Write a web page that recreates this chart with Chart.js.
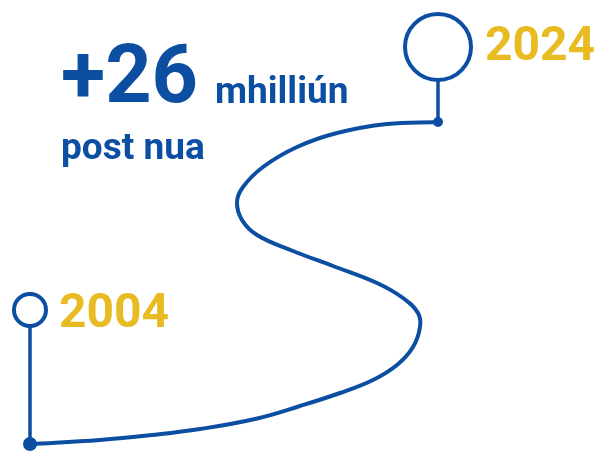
<!DOCTYPE html>
<html>
<head>
<meta charset="utf-8">
<script src="https://cdn.jsdelivr.net/npm/chart.js@4/dist/chart.umd.min.js"></script>
<style>
  html, body { margin: 0; padding: 0; background: #ffffff; }
  #wrap { width: 595px; height: 452px; position: relative; }
</style>
</head>
<body>
<div id="wrap"><canvas id="roadChart"></canvas></div>
<script>
// winding road path
const pathX = [30, 100, 152, 200, 255, 300, 340, 373, 397, 413, 420, 418, 403, 377, 333, 293, 257, 242, 237, 243, 263, 297, 337, 387, 438];
const pathY = [444, 440, 435, 429, 419, 406, 393, 380, 365, 347, 327, 313, 298, 283, 266, 251, 235, 220, 202, 187, 167, 147, 133, 124, 122];

// milestones: where the road starts/ends and where the marker sits
const years = ['2004', '2024'];
const markerX = [30, 438];
const markerY = [310, 47];
const baseY = [444, 122];

const headline = '+26';
const unitText = 'mhilliún';
const subText = 'post nua';

const BLUE = '#0b4ea2';
const YELLOW = '#e8bb22';

const roadData = pathX.map((x, i) => ({ x: x, y: pathY[i] }));

const textPlugin = {
  id: 'textPlugin',
  afterDraw(chart) {
    const ctx = chart.ctx;
    const sx = chart.scales.x, sy = chart.scales.y;
    ctx.save();
    ctx.textBaseline = 'alphabetic';
    ctx.textAlign = 'left';
    ctx.fillStyle = BLUE;
    ctx.font = 'bold 81px Roboto';
    ctx.fillText(headline, 61, 102);
    ctx.font = 'bold 37px Roboto';
    ctx.fillText(unitText, 215, 103);
    ctx.font = 'bold 37px Roboto';
    ctx.fillText(subText, 61, 159);

    ctx.fillStyle = YELLOW;
    ctx.font = 'bold 48px Roboto';
    ctx.fillText(years[0], sx.getPixelForValue(markerX[0]) + 29, sy.getPixelForValue(markerY[0]) + 17);
    ctx.fillText(years[1], sx.getPixelForValue(markerX[1]) + 47, sy.getPixelForValue(markerY[1]) + 13);
    ctx.restore();
  }
};

new Chart(document.getElementById('roadChart'), {
  type: 'scatter',
  data: {
    datasets: [
      {
        data: roadData,
        showLine: true,
        borderColor: BLUE,
        borderWidth: 4,
        tension: 0.4,
        pointRadius: 0,
        clip: false,
        order: 3
      },
      {
        data: [{ x: markerX[0], y: baseY[0] }, { x: markerX[0], y: markerY[0] }],
        showLine: true,
        borderColor: BLUE,
        borderWidth: 3.5,
        pointRadius: 0,
        clip: false,
        order: 2
      },
      {
        data: [{ x: markerX[1], y: baseY[1] }, { x: markerX[1], y: markerY[1] }],
        showLine: true,
        borderColor: BLUE,
        borderWidth: 3.5,
        pointRadius: 0,
        clip: false,
        order: 2
      },
      {
        data: baseY.map((y, i) => ({ x: markerX[i], y: y })),
        pointRadius: [7, 5],
        pointBackgroundColor: BLUE,
        pointBorderWidth: 0,
        clip: false,
        order: 1
      },
      {
        data: markerY.map((y, i) => ({ x: markerX[i], y: y })),
        pointRadius: [16, 33],
        pointBackgroundColor: '#ffffff',
        pointBorderColor: BLUE,
        pointBorderWidth: 4,
        clip: false,
        order: 0
      }
    ]
  },
  options: {
    responsive: true,
    maintainAspectRatio: false,
    animation: false,
    layout: { padding: 0, autoPadding: false },
    plugins: {
      legend: { display: false },
      tooltip: { enabled: false }
    },
    scales: {
      x: { type: 'linear', min: 0, max: 595, display: false },
      y: { type: 'linear', min: 0, max: 452, reverse: true, display: false }
    }
  },
  plugins: [textPlugin]
});
</script>
</body>
</html>
